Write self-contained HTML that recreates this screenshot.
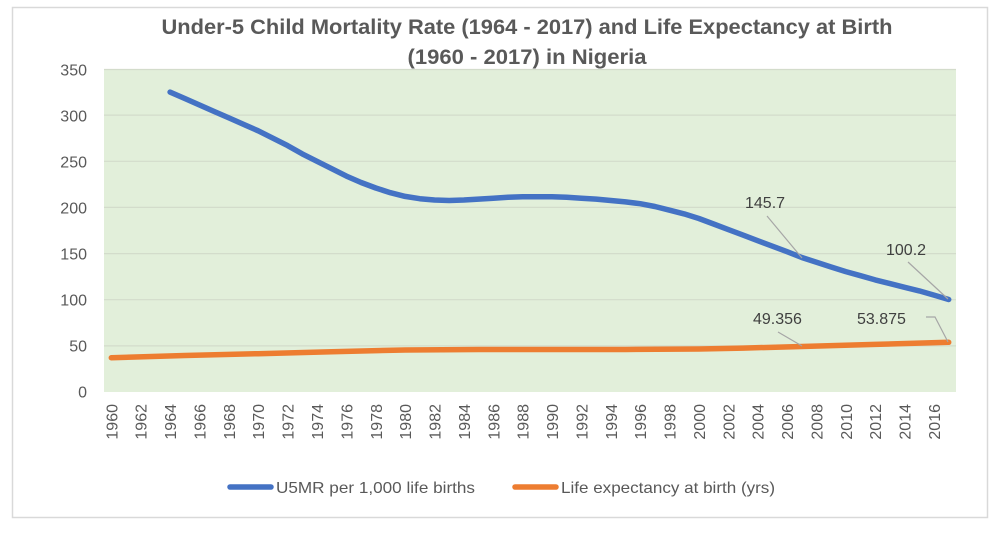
<!DOCTYPE html>
<html>
<head>
<meta charset="utf-8">
<style>
html,body{margin:0;padding:0;background:#ffffff;}
body{width:998px;height:533px;overflow:hidden;}
svg{display:block;}
text{font-family:"Liberation Sans",sans-serif;}
</style>
</head>
<body>
<svg width="998" height="533" viewBox="0 0 998 533" xmlns="http://www.w3.org/2000/svg">
  <rect x="0" y="0" width="998" height="533" fill="#ffffff"/>
  <rect x="12.5" y="7.5" width="975" height="510" fill="#ffffff" stroke="#d9d9d9" stroke-width="1.5"/>

  <!-- Title -->
  <text x="527" y="34" text-anchor="middle" font-size="21" font-weight="bold" fill="#595959" textLength="731" lengthAdjust="spacingAndGlyphs">Under-5 Child Mortality Rate (1964 - 2017) and Life Expectancy at Birth</text>
  <text x="527" y="64" text-anchor="middle" font-size="21" font-weight="bold" fill="#595959" textLength="239" lengthAdjust="spacingAndGlyphs">(1960 - 2017) in Nigeria</text>

  <!-- Plot area -->
  <rect x="104" y="69" width="852" height="323" fill="#e2efda"/>
  <g stroke="#d3dccb" stroke-width="1.2">
    <line x1="104" y1="69.5" x2="956" y2="69.5"/>
    <line x1="104" y1="115.1" x2="956" y2="115.1"/>
    <line x1="104" y1="161.3" x2="956" y2="161.3"/>
    <line x1="104" y1="207.4" x2="956" y2="207.4"/>
    <line x1="104" y1="253.6" x2="956" y2="253.6"/>
    <line x1="104" y1="299.7" x2="956" y2="299.7"/>
    <line x1="104" y1="345.9" x2="956" y2="345.9"/>
  </g>

  <!-- Y axis labels -->
  <g font-size="16" fill="#595959" text-anchor="end">
    <text x="87" y="75.5">350</text>
    <text x="87" y="121.5">300</text>
    <text x="87" y="167.5">250</text>
    <text x="87" y="213.5">200</text>
    <text x="87" y="259.5">150</text>
    <text x="87" y="305.5">100</text>
    <text x="87" y="351.5">50</text>
    <text x="87" y="397.5">0</text>
  </g>

  <!-- X axis labels -->
  <g font-size="16" fill="#595959" text-anchor="end">
    <text transform="translate(117.3,404) rotate(-90)">1960</text>
    <text transform="translate(146.7,404) rotate(-90)">1962</text>
    <text transform="translate(176.1,404) rotate(-90)">1964</text>
    <text transform="translate(205.5,404) rotate(-90)">1966</text>
    <text transform="translate(234.9,404) rotate(-90)">1968</text>
    <text transform="translate(264.2,404) rotate(-90)">1970</text>
    <text transform="translate(293.6,404) rotate(-90)">1972</text>
    <text transform="translate(323.0,404) rotate(-90)">1974</text>
    <text transform="translate(352.4,404) rotate(-90)">1976</text>
    <text transform="translate(381.8,404) rotate(-90)">1978</text>
    <text transform="translate(411.1,404) rotate(-90)">1980</text>
    <text transform="translate(440.5,404) rotate(-90)">1982</text>
    <text transform="translate(469.9,404) rotate(-90)">1984</text>
    <text transform="translate(499.3,404) rotate(-90)">1986</text>
    <text transform="translate(528.6,404) rotate(-90)">1988</text>
    <text transform="translate(558.0,404) rotate(-90)">1990</text>
    <text transform="translate(587.4,404) rotate(-90)">1992</text>
    <text transform="translate(616.8,404) rotate(-90)">1994</text>
    <text transform="translate(646.2,404) rotate(-90)">1996</text>
    <text transform="translate(675.6,404) rotate(-90)">1998</text>
    <text transform="translate(704.9,404) rotate(-90)">2000</text>
    <text transform="translate(734.3,404) rotate(-90)">2002</text>
    <text transform="translate(763.7,404) rotate(-90)">2004</text>
    <text transform="translate(793.1,404) rotate(-90)">2006</text>
    <text transform="translate(822.5,404) rotate(-90)">2008</text>
    <text transform="translate(851.8,404) rotate(-90)">2010</text>
    <text transform="translate(881.2,404) rotate(-90)">2012</text>
    <text transform="translate(910.6,404) rotate(-90)">2014</text>
    <text transform="translate(940.0,404) rotate(-90)">2016</text>
  </g>

  <!-- Life expectancy series -->
  <polyline fill="none" stroke="#ed7d31" stroke-width="5.5" stroke-linecap="round" stroke-linejoin="round"
    points="111.3,357.7 184.8,355.5 258.2,353.7 331.7,351.7 405.1,350.0 478.6,349.5 552.0,349.5 625.5,349.5 698.9,349.0 743.0,348.1 801.8,346.5 875.2,344.4 948.7,342.3"/>

  <!-- U5MR series -->
  <polyline fill="none" stroke="#4472c4" stroke-width="5.5" stroke-linecap="round" stroke-linejoin="round"
    points="170.1,92.1 184.8,98.5 199.5,105.0 214.2,111.5 228.9,117.9 243.6,124.4 258.2,130.8 272.9,138.2 287.6,145.6 302.3,153.9 317.0,161.3 331.7,168.7 346.4,176.1 361.1,182.5 375.8,188.0 390.4,192.7 405.1,196.4 419.8,198.7 434.5,200.0 449.2,200.5 463.9,200.0 478.6,199.1 493.3,198.2 508.0,197.3 522.6,196.8 537.3,196.8 552.0,196.8 566.7,197.3 581.4,198.2 596.1,199.1 610.8,200.5 625.5,201.9 640.2,203.7 654.9,206.5 669.6,210.2 684.2,213.9 698.9,218.5 713.6,224.0 728.3,229.6 743.0,235.1 757.7,240.7 772.4,246.2 787.1,251.7 801.8,257.5 816.5,262.3 831.1,267.0 845.8,271.6 860.5,275.7 875.2,279.9 889.9,283.6 904.6,287.3 919.3,290.9 934.0,295.1 948.7,299.5"/>

  <!-- Leader lines -->
  <g stroke="#a6a6a6" stroke-width="1.2" fill="none">
    <line x1="767" y1="216" x2="802" y2="258"/>
    <line x1="908" y1="262" x2="948" y2="299"/>
    <line x1="778" y1="332" x2="802" y2="346"/>
    <polyline points="926,317 935,317 948,342"/>
  </g>

  <!-- Data labels -->
  <g font-size="16" fill="#404040">
    <text x="745" y="208">145.7</text>
    <text x="886" y="255">100.2</text>
    <text x="753" y="324">49.356</text>
    <text x="857" y="324">53.875</text>
  </g>

  <!-- Legend -->
  <line x1="230" y1="487" x2="271" y2="487" stroke="#4472c4" stroke-width="5.5" stroke-linecap="round"/>
  <text x="276" y="493" font-size="16" fill="#595959" textLength="199" lengthAdjust="spacingAndGlyphs">U5MR per 1,000 life births</text>
  <line x1="515" y1="487" x2="556" y2="487" stroke="#ed7d31" stroke-width="5.5" stroke-linecap="round"/>
  <text x="561" y="493" font-size="16" fill="#595959" textLength="214" lengthAdjust="spacingAndGlyphs">Life expectancy at birth (yrs)</text>
</svg>
</body>
</html>
